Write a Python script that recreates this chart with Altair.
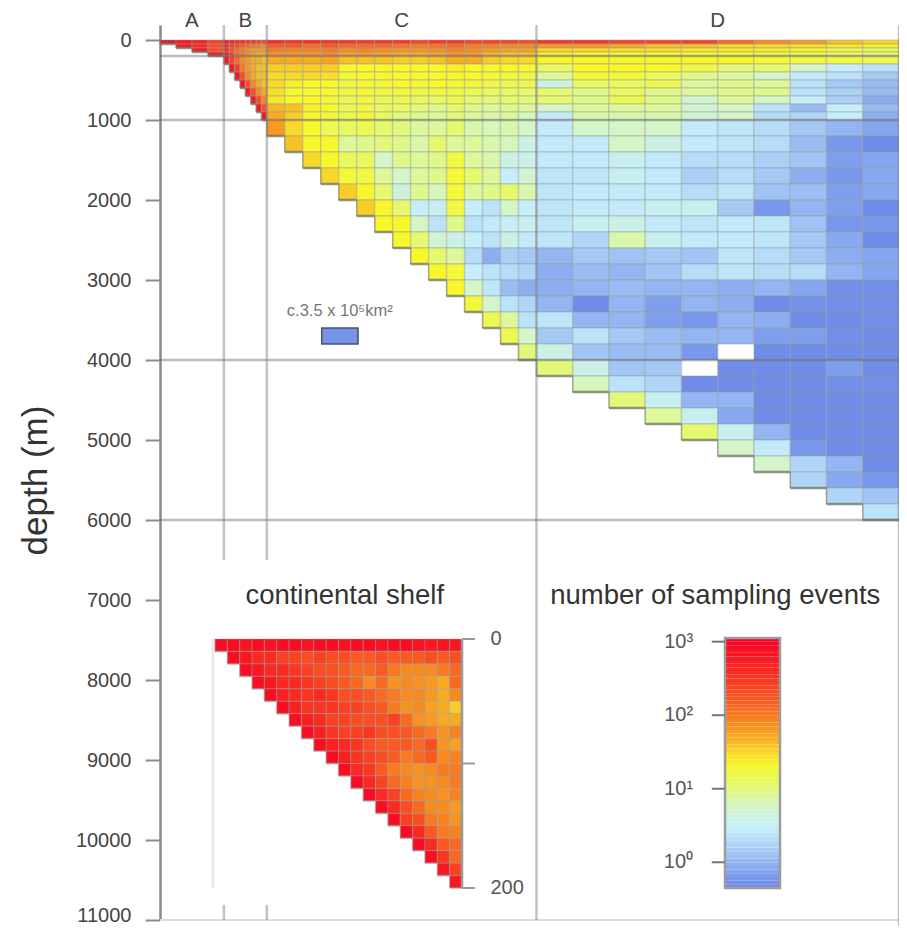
import altair as alt
import pandas as pd

FONT = "Liberation Sans"

# ---------------- data ----------------
# depth band edges (m)
ROW_EDGES = [0, 50, 100, 150, 200, 300, 400, 500, 600, 700, 800, 900, 1000,
             1200, 1400, 1600, 1800, 2000, 2200, 2400, 2600, 2800, 3000,
             3200, 3400, 3600, 3800, 4000, 4200, 4400, 4600, 4800, 5000,
             5200, 5400, 5600, 5800, 6000]

# horizontal extent (relative seafloor area units) of one column per region
REGION_LABELS = ["A", "B", "C", "D"]
REGION_COL_WIDTH = [16.0, 5.375, 18.0, 36.3]
REGION_EDGES = [0, 64, 107, 377, 740]

# seafloor depth (bottom) of each column
A_BOTTOMS = [50, 100, 150, 200]
B_BOTTOMS = [300, 400, 500, 600, 700, 800, 900, 1000]
C_BOTTOMS = [1200, 1400, 1600, 1800, 2000, 2200, 2400, 2600, 2800, 3000,
             3200, 3400, 3600, 3800, 4000]
D_BOTTOMS = [4200, 4400, 4600, 4800, 5000, 5200, 5400, 5600, 5800, 6000]

# log10(number of sampling events); one list per depth band, listing the
# columns that reach that band (right-aligned); None = no sampling
A_VALUES = [
    [2.9, 2.8, 2.7, 2.4],
    [2.8, 2.6, 2.3],
    [2.8, 2.3],
    [2.7],
]
B_VALUES = [
    [2.8, 2.7, 2.6, 2.6, 2.5, 2.5, 2.4, 2.4],
    [2.6, 2.4, 2.3, 2.2, 2.1, 2.0, 2.0, 1.9],
    [2.6, 2.3, 2.1, 2.0, 1.9, 1.8, 1.8, 1.8],
    [2.7, 2.4, 2.1, 2.0, 1.9, 1.8, 1.7, 1.7],
    [2.8, 2.4, 2.1, 1.9, 1.8, 1.7, 1.7, 1.6],
    [2.8, 2.4, 2.0, 1.8, 1.7, 1.6, 1.6],
    [2.8, 2.3, 1.9, 1.7, 1.6, 1.6],
    [2.8, 2.3, 1.9, 1.7, 1.6],
    [2.8, 2.3, 1.9, 1.7],
    [2.8, 2.3, 1.9],
    [2.8, 2.3],
    [2.8],
]
C_VALUES = [
    [2.6, 2.5, 2.6, 2.5, 2.5, 2.5, 2.5, 2.5, 2.4, 2.5, 2.5, 2.4, 2.4, 2.4, 2.3],
    [2.2, 2.2, 2.1, 2.2, 2.1, 2.1, 2.1, 2.05, 2.0, 2.05, 2.1, 2.0, 1.95, 1.9, 1.9],
    [2.0, 1.95, 1.95, 2.0, 1.9, 1.95, 1.9, 1.85, 1.85, 1.9, 1.95, 1.9, 1.8, 1.75, 1.75],
    [1.85, 1.85, 1.85, 1.9, 1.75, 1.8, 1.75, 1.7, 1.7, 1.75, 1.85, 1.8, 1.65, 1.6, 1.6],
    [1.7, 1.7, 1.7, 1.75, 1.6, 1.6, 1.6, 1.55, 1.55, 1.6, 1.7, 1.7, 1.55, 1.5, 1.5],
    [1.55, 1.55, 1.55, 1.55, 1.3, 1.3, 1.3, 1.3, 1.3, 1.3, 1.35, 1.3, 1.3, 1.3, 1.3],
    [1.5, 1.5, 1.5, 1.45, 1.25, 1.3, 1.3, 1.3, 1.3, 1.3, 1.3, 1.3, 1.25, 1.25, 1.2],
    [1.5, 1.35, 1.3, 1.3, 1.2, 1.25, 1.25, 1.3, 1.25, 1.3, 1.25, 1.2, 1.2, 1.15, 1.15],
    [1.45, 1.3, 1.3, 1.3, 1.2, 1.25, 1.2, 1.2, 1.2, 1.2, 1.2, 1.15, 1.1, 1.1, 1.05],
    [1.4, 1.3, 1.3, 1.25, 1.15, 1.2, 1.15, 1.15, 1.1, 1.1, 1.15, 1.05, 1.0, 1.05, 1.0],
    [1.65, 1.6, 1.35, 1.3, 1.15, 1.2, 1.1, 1.1, 1.0, 0.95, 1.05, 0.95, 0.9, 0.95, 0.9],
    [1.7, 1.55, 1.3, 1.25, 1.15, 1.25, 1.1, 1.0, 0.95, 0.9, 1.0, 0.9, 0.85, 0.9, 0.8],
    [1.8, 1.5, 1.3, 1.15, 1.1, 1.15, 1.05, 1.0, 0.9, 0.9, 1.05, 0.85, 0.8, 0.85, 0.75],
    [1.6, 1.3, 1.3, 0.9, 0.95, 1.0, 0.95, 0.85, 1.05, 0.9, 0.9, 0.85, 0.8, 0.6],
    [1.5, 1.3, 1.1, 1.1, 0.75, 0.95, 0.9, 0.95, 1.2, 0.9, 0.85, 0.6, 0.6],
    [1.5, 1.25, 1.2, 0.9, 0.75, 0.9, 0.95, 1.25, 1.05, 0.9, 0.5, 0.7],
    [1.55, 1.3, 1.05, 0.65, 0.95, 0.8, 1.25, 0.9, 0.95, 1.05, 0.85],
    [1.55, 1.3, 1.05, 0.5, 0.55, 1.2, 0.5, 0.35, 0.75, 0.5],
    [1.3, 1.3, 0.75, 0.35, 0.95, 0.35, 0.45, 0.5, 0.55],
    [1.3, 1.05, 0.7, 0.6, 0.5, 0.35, 0.6, 0.45],
    [1.3, 1.05, 0.9, 0.3, -0.05, 0.2, 0.15],
    [1.3, 1.25, 0.5, 0.35, 0.3, 0.25],
    [1.3, 0.75, 0.4, 0.05, -0.05],
    [1.25, 0.75, 0.35, 0.25],
    [1.15, 0.9, 0.35],
    [1.15, 0.75],
    [1.0],
]
D_VALUES = [
    [2.5, 2.5, 2.4, 2.4, 2.4, 2.1, 1.9, 1.8, 1.6, 1.5],
    [1.8, 1.8, 1.7, 1.6, 1.6, 1.5, 1.5, 1.45, 1.4, 1.35],
    [1.5, 1.5, 1.45, 1.45, 1.4, 1.4, 1.35, 1.3, 1.2, 1.1],
    [1.35, 1.3, 1.3, 1.3, 1.3, 1.3, 1.25, 1.2, 1.1, 1.05],
    [1.3, 1.3, 1.3, 1.3, 1.3, 1.3, 1.25, 1.2, 1.2, 1.15],
    [1.1, 1.3, 1.3, 1.3, 1.2, 1.0, 1.05, 0.75, 0.5, 0.35],
    [0.9, 1.25, 1.25, 1.1, 0.95, 0.9, 0.75, 0.45, 0.35, 0.15],
    [0.65, 1.1, 1.1, 1.15, 0.9, 0.95, 0.9, 0.35, 0.15, 0.05],
    [1.05, 0.95, 1.1, 0.95, 0.9, 0.95, 0.95, 0.35, 0.2, 0.05],
    [1.05, 0.95, 1.15, 0.95, 0.7, 0.9, 0.75, 0.5, 0.2, -0.05],
    [0.75, 0.9, 0.9, 0.9, 0.7, 0.75, 0.35, 0.05, 0.5, 0.05],
    [0.45, 0.85, 0.85, 0.85, 0.7, 0.75, 0.3, 0.25, 0.5, -0.05],
    [0.45, 0.75, 0.75, 0.75, 0.45, 0.4, 0.3, 0.15, 0.0, -0.1],
    [0.45, 0.45, 0.75, 0.6, 0.45, 0.4, 0.3, 0.05, -0.2, -0.3],
    [0.45, 0.45, 0.55, 0.45, 0.3, 0.3, 0.2, 0.12, -0.15, -0.1],
    [0.4, 0.4, 0.55, 0.45, 0.2, 0.3, 0.15, -0.05, -0.2, -0.08],
    [0.4, 0.45, 0.45, 0.45, 0.3, 0.4, 0.1, 0.08, -0.15, -0.08],
    [0.4, 0.45, 0.45, 0.55, 0.55, 0.15, -0.2, 0.0, -0.15, -0.3],
    [0.4, 0.55, 0.6, 0.45, 0.4, 0.45, 0.4, 0.1, -0.2, -0.22],
    [0.4, 0.25, 0.85, 0.55, 0.45, 0.45, 0.4, 0.15, -0.08, -0.3],
    [0.0, 0.15, 0.1, 0.15, 0.12, 0.4, 0.3, 0.15, -0.05, -0.1],
    [-0.05, 0.05, 0.0, 0.12, 0.3, 0.4, 0.3, 0.3, 0.0, -0.1],
    [-0.05, 0.0, 0.05, 0.0, 0.0, -0.05, 0.0, -0.1, -0.28, -0.28],
    [0.0, -0.3, 0.0, -0.15, 0.0, -0.05, -0.3, -0.25, -0.28, -0.28],
    [0.4, 0.0, 0.0, -0.15, -0.22, 0.0, -0.05, -0.3, -0.3, -0.28],
    [0.15, 0.35, 0.15, 0.05, 0.0, 0.0, -0.15, -0.15, -0.28, -0.3],
    [0.6, 0.12, 0.05, 0.05, -0.2, None, -0.3, -0.3, -0.3, -0.3],
    [1.0, 0.6, 0.12, 0.15, None, -0.3, -0.3, -0.3, -0.15, -0.3],
    [0.8, 0.35, 0.25, -0.3, -0.3, -0.3, -0.3, -0.28, -0.28],
    [1.0, 0.55, 0.0, 0.0, -0.3, -0.3, -0.3, -0.3],
    [0.9, 0.55, -0.08, -0.3, -0.3, -0.3, -0.3],
    [1.05, 0.55, 0.0, -0.3, -0.3, -0.3],
    [0.75, 0.45, -0.2, -0.3, -0.3],
    [0.75, 0.25, 0.0, -0.3],
    [0.25, -0.08, -0.2],
    [0.25, 0.12],
    [0.35],
]

# continental shelf inset: 20 columns, 10 m bands (column j reaches 10*(j+1) m)
SHELF_BAND = 10
SHELF_VALUES = [
    [2.9, 2.9, 2.85, 2.9, 2.85, 2.9, 2.9, 2.85, 2.9, 2.9, 2.85, 2.9, 2.9, 2.85, 2.9, 2.9, 2.85, 2.8, 2.85, 2.8],
    [2.9, 2.8, 2.6, 2.6, 2.4, 2.4, 2.3, 2.4, 2.3, 2.3, 2.2, 2.2, 2.3, 2.2, 2.2, 2.2, 2.3, 2.2, 2.3],
    [2.9, 2.8, 2.6, 2.6, 2.5, 2.4, 2.3, 2.3, 2.2, 2.1, 2.1, 2.2, 2.0, 1.9, 1.9, 1.9, 2.0, 2.1],
    [2.9, 2.8, 2.6, 2.6, 2.5, 2.4, 2.3, 2.2, 2.1, 1.9, 2.1, 1.85, 1.9, 1.85, 1.8, 1.7, 2.1],
    [2.9, 2.7, 2.6, 2.5, 2.6, 2.5, 2.3, 2.3, 2.2, 2.1, 2.0, 1.9, 1.9, 1.8, 1.7, 1.9],
    [2.9, 2.7, 2.5, 2.5, 2.5, 2.4, 2.4, 2.3, 2.2, 2.0, 1.85, 1.9, 1.75, 1.7, 1.55],
    [2.9, 2.7, 2.6, 2.4, 2.4, 2.3, 2.3, 2.3, 2.4, 2.1, 1.85, 1.8, 1.7, 1.7],
    [2.9, 2.7, 2.5, 2.4, 2.4, 2.5, 2.3, 2.3, 2.2, 2.1, 2.0, 1.85, 1.95],
    [2.9, 2.7, 2.6, 2.5, 2.3, 2.2, 2.2, 2.2, 2.1, 2.3, 1.85, 1.75],
    [2.9, 2.7, 2.5, 2.4, 2.3, 2.2, 2.0, 2.1, 2.2, 1.9, 1.95],
    [2.9, 2.6, 2.5, 2.2, 2.0, 1.9, 1.85, 1.9, 2.0, 2.0],
    [2.9, 2.6, 2.4, 2.1, 1.95, 1.85, 1.85, 1.9, 2.0],
    [2.9, 2.6, 2.4, 2.1, 1.95, 1.9, 1.85, 1.95],
    [2.9, 2.6, 2.3, 2.1, 1.9, 1.9, 1.8],
    [2.9, 2.4, 2.3, 2.0, 1.95, 1.85],
    [2.9, 2.6, 2.2, 2.0, 1.95],
    [2.9, 2.6, 2.2, 2.1],
    [2.9, 2.5, 2.1],
    [2.8, 2.4],
    [2.8],
]

DEPTH_TICKS = list(range(0, 11001, 1000))
REF_DEPTHS = [200, 1000, 4000, 6000]
SHELF_TICKS = [0, 100, 200]
SHELF_TICK_LABELS = ["0", "", "200"]
CBAR_TICKS = [0, 1, 2, 3]
CBAR_TICK_LABELS = ["10\u2070", "10\u00b9", "10\u00b2", "10\u00b3"]
CBAR_MIN, CBAR_MAX, CBAR_STEP = -0.35, 3.05, 0.05

# colour scale (log10 of sampling events)
COLOR_STOPS = [-0.35, -0.15, 0.0, 0.2, 0.35, 0.5, 0.65, 0.8, 1.0, 1.2, 1.3,
               1.5, 1.7, 1.9, 2.2, 2.6, 3.05]
COLOR_RANGE = ["#6a87e6", "#7d9fec", "#93b5f2", "#aad0f6", "#bae2f9", "#c6eefa",
               "#cdf2dc", "#d6f7bc", "#e2f87a", "#f0f845", "#f7f72c", "#f8d828",
               "#f8aa22", "#f88a22", "#f85a22", "#f82a22", "#f80024"]

# ---------------- tables ----------------
regions = [(A_BOTTOMS, A_VALUES, REGION_COL_WIDTH[0]),
           (B_BOTTOMS, B_VALUES, REGION_COL_WIDTH[1]),
           (C_BOTTOMS, C_VALUES, REGION_COL_WIDTH[2]),
           (D_BOTTOMS, D_VALUES, REGION_COL_WIDTH[3])]
cells, cols = [], []
x_start = 0.0
for bottoms, values, w in regions:
    xs = [x_start + i * w for i in range(len(bottoms))]
    for r, row in enumerate(values):
        top, bot = ROW_EDGES[r], ROW_EDGES[r + 1]
        present = [i for i, b in enumerate(bottoms) if b > top]
        assert len(present) == len(row), (bottoms[0], r, len(present), len(row))
        for i, v in zip(present, row):
            if v is not None:
                cells.append(dict(x0=xs[i], x1=xs[i] + w, top=top, bottom=bot, v=v))
    for i, b in enumerate(bottoms):
        cols.append((xs[i], xs[i] + w, b))
    x_start += w * len(bottoms)
cells_df = pd.DataFrame(cells)

hseg, vseg, prev = [], [], 0
for x0, x1, b in cols:
    hseg.append(dict(x0=x0, x1=x1, y=b))
    vseg.append(dict(x=x0, y0=prev, y1=b))
    prev = b
hseg_df, vseg_df = pd.DataFrame(hseg), pd.DataFrame(vseg)

shelf = []
ncol = len(SHELF_VALUES[0])
for r, row in enumerate(SHELF_VALUES):
    first = ncol - len(row)
    for k, v in enumerate(row):
        j = first + k
        shelf.append(dict(x0=j, x1=j + 1, top=r * SHELF_BAND, bottom=(r + 1) * SHELF_BAND, v=v))
shelf_df = pd.DataFrame(shelf)
sh_h = pd.DataFrame([dict(x0=j, x1=j + 1, y=(j + 1) * SHELF_BAND) for j in range(ncol)])
sh_v = pd.DataFrame([dict(x=j, y0=j * SHELF_BAND, y1=(j + 1) * SHELF_BAND) for j in range(ncol)])

nb = int(round((CBAR_MAX - CBAR_MIN) / CBAR_STEP))
cbar_df = pd.DataFrame([dict(y0=CBAR_MIN + i * CBAR_STEP, y1=CBAR_MIN + (i + 1) * CBAR_STEP,
                             v=CBAR_MIN + (i + 0.5) * CBAR_STEP) for i in range(nb)])

# ---------------- scales ----------------
W, H = 739, 895
MX = alt.Scale(domain=[0, 740], nice=False, zero=False)
MY = alt.Scale(domain=[-187.5, 11000], reverse=True, nice=False, zero=False)
IX = alt.Scale(domain=[0, 20], range=[55, 302], nice=False, zero=False)
IY = alt.Scale(domain=[0, 200], range=[614, 863], nice=False, zero=False)
CX = alt.Scale(domain=[0, 1], range=[565, 620], nice=False, zero=False)
CY = alt.Scale(domain=[CBAR_MIN, CBAR_MAX], range=[863, 613], nice=False, zero=False)
CSCALE = alt.Scale(domain=COLOR_STOPS, range=COLOR_RANGE, interpolate="rgb", clamp=True)

yaxis = alt.Axis(values=DEPTH_TICKS, orient="left", title="depth (m)", grid=False, format="d",
                 labelFont=FONT, labelFontSize=20, labelColor="#444", labelPadding=14,
                 labelOffset={"condition": {"test": "datum.value == 11000", "value": -5}, "value": 0},
                 tickSize=15, tickColor="#8a8a8a", tickWidth=2,
                 domainColor="#8a8a8a", domainWidth=2.5,
                 titleFont=FONT, titleFontSize=35, titleFontWeight="normal",
                 titleColor="#333", titleX=-125, titleY=455, titleAngle=270,
                 titleAlign="center", titleBaseline="middle",
                 labelFlush=False, labelOverlap=False)

layers = []

# main cells
layers.append(alt.Chart(cells_df).mark_rect(stroke="#9a9a9a", strokeOpacity=0.35, strokeWidth=1.5).encode(
    x=alt.X("x0:Q", scale=MX, axis=None), x2="x1:Q",
    y=alt.Y("top:Q", scale=MY, axis=yaxis), y2="bottom:Q",
    color=alt.Color("v:Q", scale=CSCALE, legend=None)))

# staircase shadow
layers.append(alt.Chart(hseg_df).mark_rule(color="#6f7a6a", opacity=0.75, strokeWidth=2.5).encode(
    x=alt.X("x0:Q", scale=MX, axis=None), x2="x1:Q",
    y=alt.Y("y:Q", scale=MY, axis=None)))
layers.append(alt.Chart(vseg_df).mark_rule(color="#6f7a6a", opacity=0.5, strokeWidth=1.5).encode(
    x=alt.X("x:Q", scale=MX, axis=None),
    y=alt.Y("y0:Q", scale=MY, axis=None), y2="y1:Q"))

# reference depth lines
layers.append(alt.Chart(pd.DataFrame({"d": REF_DEPTHS})).mark_rule(color="#666", opacity=0.45, strokeWidth=2.5).encode(
    y=alt.Y("d:Q", scale=MY, axis=None)))
# bottom frame line
layers.append(alt.Chart(pd.DataFrame({"d": [DEPTH_TICKS[-1]]})).mark_rule(color="#ddd", strokeWidth=2).encode(
    y=alt.Y("d:Q", scale=MY, axis=None)))

# region boundary lines
vlines = pd.DataFrame([
    dict(x=REGION_EDGES[1], y0=-187.5, y1=6500), dict(x=REGION_EDGES[1], y0=10810, y1=11000),
    dict(x=REGION_EDGES[2], y0=-187.5, y1=6500), dict(x=REGION_EDGES[2], y0=10810, y1=11000),
    dict(x=REGION_EDGES[3], y0=-187.5, y1=11000), dict(x=REGION_EDGES[4], y0=-187.5, y1=11200),
])
layers.append(alt.Chart(vlines).mark_rule(color="#777", opacity=0.45, strokeWidth=2.5).encode(
    x=alt.X("x:Q", scale=MX, axis=None),
    y=alt.Y("y0:Q", scale=MY, axis=None), y2="y1:Q"))

# region labels
lab = pd.DataFrame(dict(x=[(REGION_EDGES[i] + REGION_EDGES[i + 1]) / 2 for i in range(4)],
                        y=[-187.5] * 4, t=REGION_LABELS))
layers.append(alt.Chart(lab).mark_text(font=FONT, fontSize=20.5, color="#444", baseline="alphabetic", dy=2).encode(
    x=alt.X("x:Q", scale=MX, axis=None), y=alt.Y("y:Q", scale=MY, axis=None), text="t:N"))

# area scale bar (one D cell)
sb = pd.DataFrame([dict(x0=162, x1=162 + REGION_COL_WIDTH[3], top=3600, bottom=3800, v=-0.25)])
layers.append(alt.Chart(sb).mark_rect(stroke="#4a5068", strokeWidth=1.5).encode(
    x=alt.X("x0:Q", scale=MX, axis=None), x2="x1:Q",
    y=alt.Y("top:Q", scale=MY, axis=None), y2="bottom:Q",
    color=alt.Color("v:Q", scale=CSCALE, legend=None)))
layers.append(alt.Chart(pd.DataFrame([dict(x=180, y=3390, t="c.3.5 x 10\u2075km\u00b2")])).mark_text(
    font=FONT, fontSize=16.5, color="#777", baseline="middle").encode(
    x=alt.X("x:Q", scale=MX, axis=None), y=alt.Y("y:Q", scale=MY, axis=None), text="t:N"))

# panel titles
titles = pd.DataFrame([dict(x=185, y=6950, t="continental shelf"),
                       dict(x=556, y=6950, t="number of sampling events")])
layers.append(alt.Chart(titles).mark_text(font=FONT, fontSize=27.5, color="#333", baseline="middle").encode(
    x=alt.X("x:Q", scale=MX, axis=None), y=alt.Y("y:Q", scale=MY, axis=None), text="t:N"))

# ---- inset: continental shelf ----
layers.append(alt.Chart(pd.DataFrame([dict(x=-0.16, y0=0, y1=200)])).mark_rule(color="#ebebeb", strokeWidth=3).encode(
    x=alt.X("x:Q", scale=IX, axis=None), y=alt.Y("y0:Q", scale=IY, axis=None), y2="y1:Q"))
layers.append(alt.Chart(shelf_df).mark_rect(stroke="#9a9a9a", strokeOpacity=0.35, strokeWidth=1.2).encode(
    x=alt.X("x0:Q", scale=IX, axis=None), x2="x1:Q",
    y=alt.Y("top:Q", scale=IY, axis=None), y2="bottom:Q",
    color=alt.Color("v:Q", scale=CSCALE, legend=None)))
layers.append(alt.Chart(sh_h).mark_rule(color="#999", opacity=0.45, strokeWidth=2).encode(
    x=alt.X("x0:Q", scale=IX, axis=None), x2="x1:Q", y=alt.Y("y:Q", scale=IY, axis=None)))
layers.append(alt.Chart(sh_v).mark_rule(color="#999", opacity=0.3, strokeWidth=1.5).encode(
    x=alt.X("x:Q", scale=IX, axis=None), y=alt.Y("y0:Q", scale=IY, axis=None), y2="y1:Q"))
layers.append(alt.Chart(pd.DataFrame([dict(x=20, y0=0, y1=200)])).mark_rule(color="#999", strokeWidth=2.5).encode(
    x=alt.X("x:Q", scale=IX, axis=None), y=alt.Y("y0:Q", scale=IY, axis=None), y2="y1:Q"))
sticks = pd.DataFrame(dict(x0=[20] * 3, x1=[21.05] * 3, y=SHELF_TICKS, t=SHELF_TICK_LABELS, xl=[22.3] * 3))
layers.append(alt.Chart(sticks).mark_rule(color="#999", strokeWidth=2).encode(
    x=alt.X("x0:Q", scale=IX, axis=None), x2="x1:Q", y=alt.Y("y:Q", scale=IY, axis=None)))
layers.append(alt.Chart(sticks).mark_text(font=FONT, fontSize=20, color="#555", align="left", baseline="middle").encode(
    x=alt.X("xl:Q", scale=IX, axis=None), y=alt.Y("y:Q", scale=IY, axis=None), text="t:N"))

# ---- colour bar ----
layers.append(alt.Chart(cbar_df).mark_rect().encode(
    x=alt.value(565), x2=alt.value(620),
    y=alt.Y("y0:Q", scale=CY, axis=None), y2="y1:Q",
    color=alt.Color("v:Q", scale=CSCALE, legend=None)))
layers.append(alt.Chart(pd.DataFrame([dict(x0=0, x1=1, y0=CBAR_MIN, y1=CBAR_MAX)])).mark_rect(
    fill=None, fillOpacity=0, stroke="#9c9c9c", strokeWidth=2.5).encode(
    x=alt.X("x0:Q", scale=CX, axis=None), x2="x1:Q",
    y=alt.Y("y0:Q", scale=CY, axis=None), y2="y1:Q"))
cticks = pd.DataFrame(dict(x0=[-0.24] * 4, x1=[0] * 4, xl=[-0.58] * 4, y=CBAR_TICKS, t=CBAR_TICK_LABELS))
layers.append(alt.Chart(cticks).mark_rule(color="#777", strokeWidth=2).encode(
    x=alt.X("x0:Q", scale=CX, axis=None), x2="x1:Q", y=alt.Y("y:Q", scale=CY, axis=None)))
layers.append(alt.Chart(cticks).mark_text(font=FONT, fontSize=20, color="#555", align="right", baseline="middle").encode(
    x=alt.X("xl:Q", scale=CX, axis=None), y=alt.Y("y:Q", scale=CY, axis=None), text="t:N"))

chart = alt.layer(*layers).resolve_scale(x="independent", y="independent").properties(
    width=W, height=H,
    autosize=alt.AutoSizeParams(type="none"),
    padding={"left": 152, "top": 17, "right": 0, "bottom": 6},
    background="white",
).configure_view(strokeWidth=0)

chart.save("out.html", embed_options={"renderer": "svg", "actions": False})
